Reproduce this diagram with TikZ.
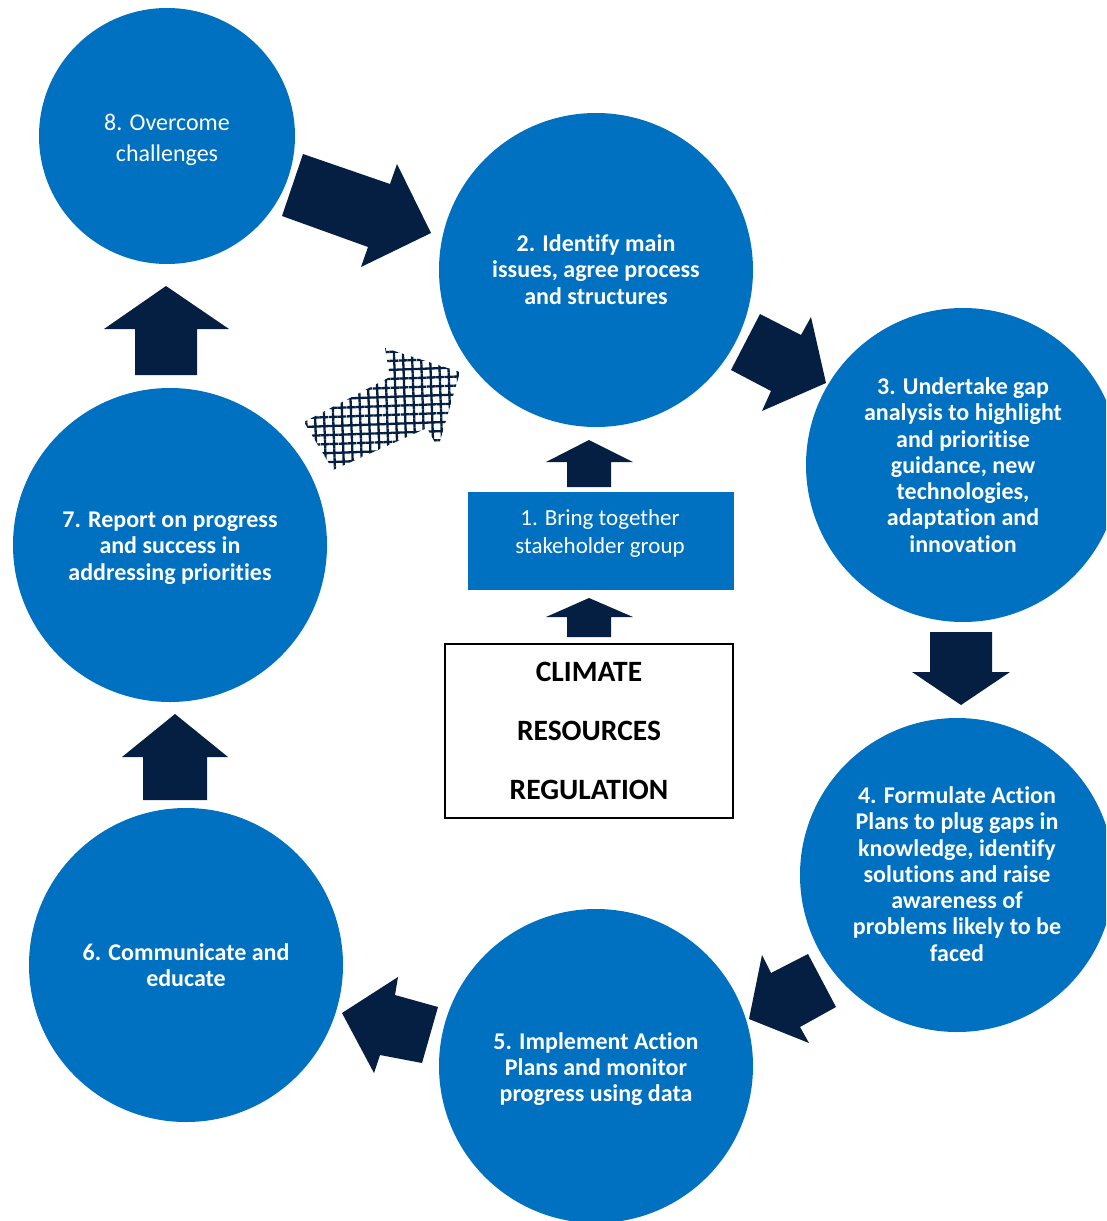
\documentclass[tikz,border=0pt]{standalone}
\usepackage{fontspec}
\setmainfont{Carlito}[Ligatures=NoCommon]
\usetikzlibrary{patterns.meta}
\definecolor{cblue}{HTML}{0070C0}
\definecolor{navy}{HTML}{041F41}
\tikzset{
  stage/.style={circle, fill=cblue, draw=none, inner sep=0pt, minimum size=314pt},
  stagetext/.style={text=white, align=center, inner sep=0pt, font=\fontsize{24}{26.3}\selectfont\bfseries},
  lighttext/.style={text=white, align=center, inner sep=0pt, font=\fontsize{24}{31}\selectfont},
  blockarrow/.style={fill=navy, draw=none},
}
\begin{document}
\begin{tikzpicture}[x=1pt,y=-1pt]
\useasboundingbox (0,0) rectangle (1106,1221);
\clip (0,0) rectangle (1106,1221);
% circles
\node[stage, minimum size=256pt] (c8) at (167,136) {};
\node[stage] (c2) at (596,270) {};
\node[stage] (c3) at (963,465) {};
\node[stage] (c4) at (957,875) {};
\node[stage] (c5) at (596,1066) {};
\node[stage] (c6) at (186,965) {};
\node[stage] (c7) at (170,545) {};
% circle texts
\node[lighttext] (t8) at (167,140) {8. Overcome\\challenges};
\node[stagetext] (t2) at (596,269.5) {2. Identify main\\issues, agree process\\and structures};
\node[stagetext] (t3) at (963,465) {3. Undertake gap\\analysis to highlight\\and prioritise\\guidance, new\\technologies,\\adaptation and\\innovation};
\node[stagetext] (t4) at (957,874) {4. Formulate Action\\Plans to plug gaps in\\knowledge, identify\\solutions and raise\\awareness of\\problems likely to be\\faced};
\node[stagetext] (t5) at (596,1069) {5. Implement Action\\Plans and monitor\\progress using data};
\node[stagetext] (t6) at (186,965.5) {6. Communicate and\\educate};
\node[stagetext] (t7) at (170,548) {7. Report on progress\\and success in\\addressing priorities};
% stakeholder box
\node[fill=cblue, minimum width=266pt, minimum height=98pt, inner sep=0pt] (s1) at (601,541) {};
\node[text=white, align=center, inner sep=0pt, font=\fontsize{23}{28}\selectfont] (s1t) at (600,533) {1. Bring together\\stakeholder group};
% drivers box
\node[draw=black, line width=1.5pt, minimum width=288pt, minimum height=174pt, inner sep=0pt, align=center, font=\fontsize{29.5}{59}\selectfont\bfseries] (drv) at (589,731) {CLIMATE\\RESOURCES\\REGULATION};
% block arrows
\fill[blockarrow] (303,154) -- (390,184) -- (397,164) -- (431,233) -- (361,267) -- (368,247) -- (282,216) -- cycle;
\fill[blockarrow] (760,314) -- (801,335) -- (811,317) -- (826,383) -- (762,411) -- (771,391) -- (731,370) -- cycle;
\fill[blockarrow] (930,632) -- (992,632) -- (992,672) -- (1010,672) -- (961,705) -- (912,672) -- (930,672) -- cycle;
\fill[blockarrow] (749,1019) -- (762,955) -- (771,973) -- (808,954) -- (836,1007) -- (800,1027) -- (809,1043) -- cycle;
\fill[blockarrow] (342,1013) -- (398,977) -- (395,995) -- (438,1007) -- (422,1063) -- (380,1055) -- (374,1073) -- cycle;
\fill[blockarrow] (143,800) -- (207,800) -- (207,757) -- (228,757) -- (175,714) -- (122,757) -- (143,757) -- cycle;
\fill[blockarrow] (135,375) -- (197,375) -- (197,329) -- (229,329) -- (166,286) -- (104,329) -- (135,329) -- cycle;
\fill[blockarrow] (567,487) -- (611,487) -- (611,462) -- (633,462) -- (589,440) -- (546,462) -- (567,462) -- cycle;
\fill[blockarrow] (567,637) -- (611,637) -- (611,617) -- (633,617) -- (589,598) -- (546,617) -- (567,617) -- cycle;
% hatched arrow
\path[pattern={Hatch[angle=2,distance=9pt,line width=2.3pt,xshift=1pt]}, pattern color=navy]
  (304,422) -- (390,377) -- (385,348) -- (460,372) -- (438,448) -- (427,428) -- (333,470) -- cycle;
\end{tikzpicture}
\end{document}
